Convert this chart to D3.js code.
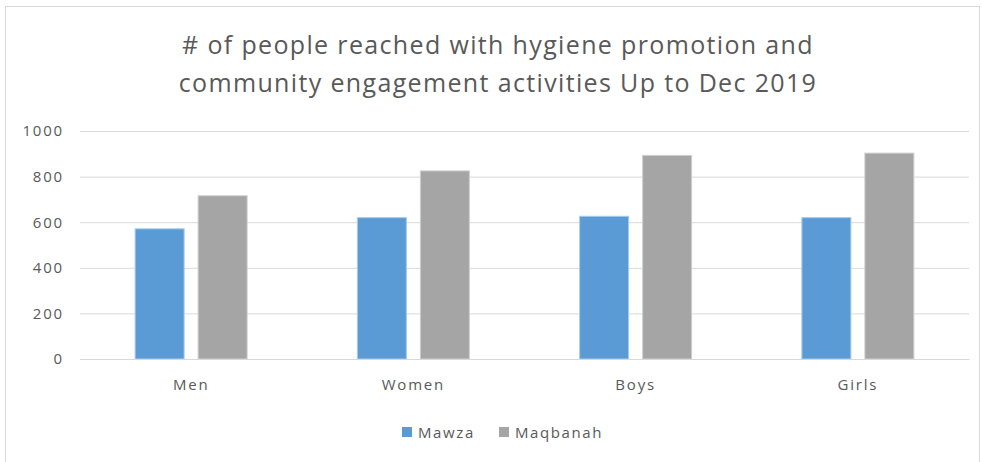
<html>
<head>
  <script src="https://d3js.org/d3.v7.min.js"></script>
  <style>
    body { margin: 0; background: #fff; }
    text { font-family: "Open Sans", sans-serif; fill: #595959; }
  </style>
</head>
<body>
  <div id="chart"></div>
  <script>
    const categories = ["Men", "Women", "Boys", "Girls"];
    const seriesNames = ["Mawza", "Maqbanah"];
    const mawza = [571, 620, 626, 620];
    const maqbanah = [716, 825, 893, 903];
    const yTicks = [0, 200, 400, 600, 800, 1000];
    const titleLines = ["# of people reached with hygiene promotion and",
                        "community engagement activities Up to Dec 2019"];

    const w = 982, h = 462;
    const plotLeft = 80, plotRight = 969, plotTop = 131, plotBottom = 359;
    const colors = ["#5B9BD5", "#A5A5A5"];

    const svg = d3.select("#chart").append("svg")
      .attr("width", w)
      .attr("height", h);

    // outer chart border
    svg.append("rect")
      .attr("x", 5.5).attr("y", 6.5)
      .attr("width", 974).attr("height", 470)
      .attr("fill", "none")
      .attr("stroke", "#D9D9D9");

    svg.selectAll(".title")
      .data(titleLines)
      .enter().append("text")
      .attr("class", "title")
      .attr("x", 498)
      .attr("y", (d, i) => 54 + i * 38)
      .attr("text-anchor", "middle")
      .style("font-size", "25px")
      .style("letter-spacing", "1.35px")
      .text(d => d);

    const x0 = d3.scaleBand().domain(categories).range([plotLeft, plotRight]);
    const x1 = d3.scaleBand().domain(seriesNames)
      .range([x0.bandwidth() / 2 - 56, x0.bandwidth() / 2 + 56]).paddingInner(0.222);
    const y = d3.scaleLinear().domain([0, 1000]).range([plotBottom, plotTop]);

    // gridlines + y labels
    const yAxis = d3.axisLeft(y).tickValues(yTicks).tickFormat(d3.format("d"))
      .tickSize(-(plotRight - plotLeft)).tickPadding(16);
    const gy = svg.append("g")
      .attr("transform", "translate(" + plotLeft + ",0)")
      .call(yAxis);
    gy.select(".domain").remove();
    gy.selectAll("line").attr("stroke", "#D9D9D9").attr("stroke-width", 1);
    gy.selectAll("text").style("font-size", "15px").style("letter-spacing", "1.8px").attr("fill", "#595959");

    const rows = categories.map((c, i) => ({ cat: c, vals: [mawza[i], maqbanah[i]] }));
    const groups = svg.selectAll(".grp")
      .data(rows)
      .enter().append("g")
      .attr("class", "grp")
      .attr("transform", d => "translate(" + x0(d.cat) + ",0)");

    groups.selectAll("rect")
      .data(d => d.vals.map((v, j) => ({ name: seriesNames[j], v: v, j: j })))
      .enter().append("rect")
      .attr("x", d => x1(d.name))
      .attr("y", d => y(d.v))
      .attr("width", x1.bandwidth())
      .attr("height", d => y(0) - y(d.v))
      .attr("fill", d => colors[d.j])
      .attr("stroke", d => d.j === 0 ? "#A9CBEA" : "#CFCFCF")
      .attr("stroke-width", 1);

    // x axis
    const xAxis = d3.axisBottom(x0).tickSize(0).tickPadding(20);
    const gx = svg.append("g")
      .attr("transform", "translate(0," + plotBottom + ")")
      .call(xAxis);
    gx.select(".domain").attr("stroke", "#D9D9D9");
    gx.selectAll("text").style("font-size", "15px").style("letter-spacing", "1.8px").attr("fill", "#595959");

    // legend
    const legend = svg.selectAll(".legend")
      .data(seriesNames)
      .enter().append("g")
      .attr("class", "legend")
      .attr("transform", (d, i) => "translate(" + (402 + i * 97) + ",427)");
    legend.append("rect")
      .attr("width", 10).attr("height", 10)
      .attr("fill", (d, i) => colors[i]);
    legend.append("text")
      .attr("x", 16).attr("y", 11)
      .style("font-size", "15px")
      .style("letter-spacing", "1.6px")
      .text(d => d);
  </script>
</body>
</html>
